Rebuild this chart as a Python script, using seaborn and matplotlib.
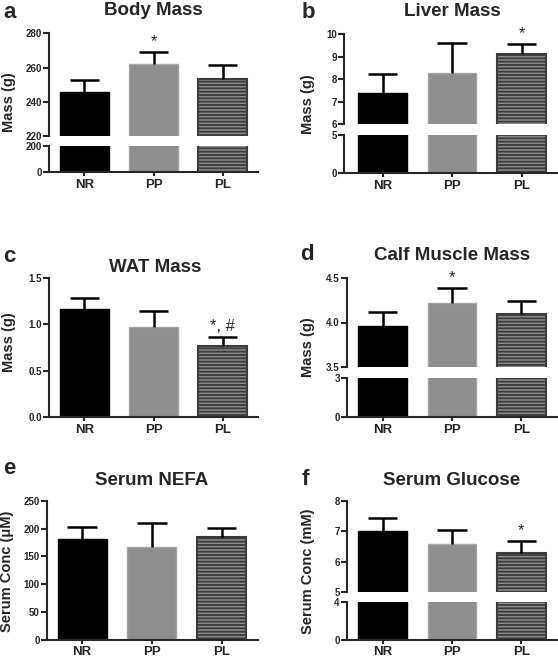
import numpy as np
import matplotlib
matplotlib.use('Agg')
import matplotlib.pyplot as plt
import seaborn as sns

# group names on the x axis
groups = ['NR', 'PP', 'PL']

# mean and SEM per group
body_mass = [245.5, 261.9, 253.3]
body_mass_sem = [7.2, 7.0, 8.2]
liver_mass = [7.37, 8.26, 9.12]
liver_mass_sem = [0.86, 1.34, 0.43]
wat_mass = [1.164, 0.976, 0.766]
wat_mass_sem = [0.12, 0.17, 0.10]
calf_mass = [3.96, 4.22, 4.10]
calf_mass_sem = [0.16, 0.17, 0.145]
nefa = [180.6, 166.3, 184.8]
nefa_sem = [21.6, 44.2, 16.8]
glucose = [7.00, 6.57, 6.30]
glucose_sem = [0.44, 0.46, 0.39]

# significance labels above bars ('' = none)
body_sig = ['', '*', '']
liver_sig = ['', '', '*']
wat_sig = ['', '', '*, #']
calf_sig = ['', '*', '']
nefa_sig = ['', '', '']
glucose_sig = ['', '', '*']

sns.set_style('ticks')
plt.rcParams['font.family'] = ['Liberation Sans', 'DejaVu Sans']
plt.rcParams['font.weight'] = 'bold'
plt.rcParams['axes.labelweight'] = 'bold'
plt.rcParams['hatch.linewidth'] = 1.3

W, H = 558, 660
fig = plt.figure(figsize=(W / 100, H / 100), dpi=100)


def add_ax(x0, y0, x1, y1):
    # pixel box (top-left origin) -> figure axes
    return fig.add_axes([x0 / W, 1 - y1 / H, (x1 - x0) / W, (y1 - y0) / H])


def draw_bars(ax, vals, sems, sig=None):
    sns.barplot(x=groups, y=vals, hue=groups, legend=False, width=0.7,
                palette=['black', '#8e8e8e', '#8a8a8a'], saturation=1,
                errorbar=None, ax=ax)
    styles = [('black', 1.0, None), ('#a6a6a6', 1.0, None), ('#3c3c3c', 1.5, '-----')]
    for patch, (ec, lw, hatch) in zip(ax.patches, styles):
        patch.set_edgecolor(ec)
        patch.set_linewidth(lw)
        if hatch:
            patch.set_hatch(hatch)
    x = np.arange(len(groups))
    vals = np.array(vals)
    tops = vals + np.array(sems)
    ax.vlines(x, vals, tops, color='black', lw=1.8, zorder=4)
    ax.hlines(tops, x - 0.21, x + 0.21, color='black', lw=1.8, zorder=4)
    if sig:
        for i, s in enumerate(sig):
            if s:
                ax.annotate(s, xy=(x[i], tops[i]), xytext=(0, 2),
                            textcoords='offset points', ha='center',
                            va='bottom', fontsize=12, fontweight='normal')


def style_ax(ax, xlim, ylim, yticks, bottom=True):
    ax.set_xlim(*xlim)
    ax.set_ylim(*ylim)
    ax.set_yticks(yticks)
    ax.set_xlabel('')
    ax.set_ylabel('')
    for s in ['top', 'right']:
        ax.spines[s].set_visible(False)
    ax.spines['left'].set_linewidth(1.5)
    ax.spines['bottom'].set_linewidth(1.5)
    ax.tick_params(axis='y', direction='out', length=4, width=1.5,
                   labelsize=7, pad=1)
    if bottom:
        ax.tick_params(axis='x', direction='out', length=3, width=1.5,
                       labelsize=9.5, pad=2)
    else:
        ax.spines['bottom'].set_visible(False)
        ax.tick_params(axis='x', bottom=False, labelbottom=False)
    ax.set_facecolor('none')


def panel(vals, sems, sig, box, xlim, upper, lower=None, split=None):
    x0, y0, x1, y1 = box
    if lower is None:
        ax = add_ax(x0, y0, x1, y1)
        draw_bars(ax, vals, sems, sig)
        style_ax(ax, xlim, upper[0], upper[1])
        return ax
    ys_top, ys_bot = split
    ax_u = add_ax(x0, y0, x1, ys_top)
    draw_bars(ax_u, vals, sems, sig)
    style_ax(ax_u, xlim, upper[0], upper[1], bottom=False)
    ax_l = add_ax(x0, ys_bot, x1, y1)
    draw_bars(ax_l, vals, sems)
    style_ax(ax_l, xlim, lower[0], lower[1])
    return ax_u


def label(x, y, txt, size, **kw):
    fig.text(x / W, 1 - y / H, txt, fontsize=size, fontweight='bold', **kw)


# a: Body Mass
panel(body_mass, body_mass_sem, body_sig, (49, 33.3, 258, 172), (-0.51, 2.51),
      ((220, 280), [220, 240, 260, 280]), ((0, 200), [0, 200]), (136, 146))
# b: Liver Mass
panel(liver_mass, liver_mass_sem, liver_sig, (344, 34.3, 557, 173.3), (-0.555, 2.51),
      ((6, 10), [6, 7, 8, 9, 10]), ((0, 5), [0, 5]), (124, 135))
# c: WAT Mass
panel(wat_mass, wat_mass_sem, wat_sig, (49, 278.3, 258, 416.7), (-0.51, 2.51),
      ((0, 1.5), [0.0, 0.5, 1.0, 1.5]))
# d: Calf Muscle Mass
panel(calf_mass, calf_mass_sem, calf_sig, (346.7, 278.3, 557, 416.7), (-0.52, 2.515),
      ((3.5, 4.5), [3.5, 4.0, 4.5]), ((0, 3), [0, 3]), (366.7, 378.3))
# e: Serum NEFA
panel(nefa, nefa_sem, nefa_sig, (46.7, 501, 258, 639.5), (-0.507, 2.52),
      ((0, 250), [0, 50, 100, 150, 200, 250]))
# f: Serum Glucose
panel(glucose, glucose_sem, glucose_sig, (346.7, 501, 557, 639.5), (-0.52, 2.515),
      ((5, 8), [5, 6, 7, 8]), ((0, 4), [0, 4]), (592, 602))

# panel letters
for x, y, t in [(3, 18, 'a'), (302, 18, 'b'), (3, 262, 'c'),
                (300, 260, 'd'), (3, 474, 'e'), (302, 485, 'f')]:
    label(x, y, t, 16, va='baseline', ha='left')

# titles
for x, y, t in [(153, 15, 'Body Mass'), (452, 16, 'Liver Mass'),
                (155, 272, 'WAT Mass'), (452, 260, 'Calf Muscle Mass'),
                (152, 485, 'Serum NEFA'), (452, 485, 'Serum Glucose')]:
    label(x, y, t, 13.5, va='baseline', ha='center')

# y axis labels
for x, y, t in [(9, 102, 'Mass (g)'), (308, 104, 'Mass (g)'),
                (9, 342, 'Mass (g)'), (308, 347, 'Mass (g)'),
                (7, 571, 'Serum Conc (\u03bcM)'), (308, 571, 'Serum Conc (mM)')]:
    label(x, y, t, 10.5, rotation=90, ha='center', va='center')

fig.savefig('out.png', dpi=100)
